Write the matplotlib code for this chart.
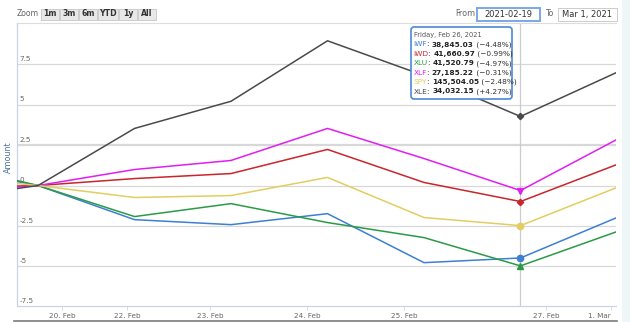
import matplotlib
matplotlib.use("Agg")
import matplotlib.pyplot as plt
import matplotlib.transforms as mtransforms
from matplotlib.patches import Rectangle, FancyBboxPatch

# trading days on an ordinal axis, Feb 19 is the comparison base (0 %)
day_index = [-1, 0, 1, 2, 3, 4, 5, 6]

# percent change vs. Feb 19
iwf = [1.14, 0.0, -2.11, -2.42, -1.74, -4.77, -4.48, -1.98]
iwd = [-0.14, 0.0, 0.43, 0.74, 2.23, 0.19, -0.99, 1.30]
xlu = [1.42, 0.0, -1.92, -1.12, -2.29, -3.22, -4.97, -2.85]
xlf = [-0.43, 0.0, 0.99, 1.55, 3.53, 1.67, -0.31, 2.85]
spy = [0.57, 0.0, -0.74, -0.62, 0.50, -1.98, -2.48, -0.12]
xle = [-0.85, 0.0, 3.53, 5.21, 8.95, 6.80, 4.27, 7.00]

names = ["IWF", "IWD", "XLU", "XLF", "SPY", "XLE"]
series = [iwf, iwd, xlu, xlf, spy, xle]
colors = ["#3d7fd2", "#c8262c", "#2b9a47", "#e01ef2", "#e2cd60", "#4a4a4a"]
markers = ["o", "D", "^", "v", "o", "D"]
marker_sizes = [4.5, 3.2, 4.0, 4.0, 4.5, 3.2]

# values shown in the hover box for Feb 26
hover_pos = 6
hover_date = "Friday, Feb 26, 2021"
hover_prices = [38845.03, 41660.97, 41520.79, 27185.22, 145504.05, 34032.15]

tick_pos = [0.249, 0.922, 1.782, 2.788, 3.793, 5.264, 5.938]
tick_labels = ["20. Feb", "22. Feb", "23. Feb", "24. Feb", "25. Feb", "27. Feb", "1. Mar"]
y_ticks = [-7.5, -5, -2.5, 0, 2.5, 5, 7.5]

W, H = 630, 322
fig = plt.figure(figsize=(W / 100, H / 100), dpi=100)
# pixel coordinates measured from the top-left corner
px = mtransforms.Affine2D().scale(1 / W, -1 / H).translate(0, 1) + fig.transFigure

ax = fig.add_axes([17 / W, (H - 306) / H, (616 - 17) / W, (306 - 23) / H])
ax.set_xlim(-0.218, 5.99)
ax.set_ylim(-7.45, 10.05)

for yv in y_ticks:
    ax.axhline(yv, color="#d8d8d8", lw=1.6 if yv == 2.5 else 0.9, zorder=0)
    ax.text(0.004, yv + 0.15, f"{yv:g}", transform=ax.get_yaxis_transform(),
            fontsize=5.2, color="#666666", ha="left", va="bottom")

# crosshair at the hovered day
ax.axvline(day_index[hover_pos], color="#cccccc", lw=0.9, zorder=1)

for vals, c, m, ms in zip(series, colors, markers, marker_sizes):
    ax.plot(day_index, vals, color=c, lw=1.1, zorder=3)
    ax.plot(day_index[hover_pos], vals[hover_pos], marker=m, color=c,
            markersize=ms, zorder=4)

ax.set_yticks([])
ax.set_xticks(tick_pos)
ax.set_xticklabels(tick_labels, fontsize=5.2, color="#666666")
for lbl in ax.get_xticklabels()[-1:]:
    lbl.set_ha("right")
ax.tick_params(axis="x", direction="out", length=3, width=0.6, color="#ccd6eb", pad=2)
ax.tick_params(axis="y", length=0)
for side in ["left", "bottom"]:
    ax.spines[side].set_color("#c8d4e6")
    ax.spines[side].set_linewidth(0.9)
ax.spines["top"].set_color("#dddddd")
ax.spines["top"].set_linewidth(0.8)
ax.spines["right"].set_visible(False)
ax.set_facecolor("white")

fig.text(8 / W, 1 - 157 / H, "Amount", rotation=90, fontsize=5.8, color="#4d6f9e",
         ha="center", va="center")

# range selector buttons
fig.text(17 / W, 1 - 14 / H, "Zoom", fontsize=5.6, color="#666666", va="center")
btn_x = [41, 60, 79, 98, 119, 138, 157]
btn_labels = ["1m", "3m", "6m", "YTD", "1y", "All"]
for x0, x1, lab in zip(btn_x[:-1], btn_x[1:], btn_labels):
    fig.patches.append(Rectangle((x0, 8.5), x1 - x0 - 1, 11, transform=px,
                                 facecolor="#e8e8e8", edgecolor="#c6c6c6", lw=0.6))
    fig.text((x0 + x1 - 1) / 2 / W, 1 - 14 / H, lab, fontsize=5.6, color="#333333",
             ha="center", va="center", fontweight="bold")

# date range inputs
fig.text(475 / W, 1 - 14 / H, "From", fontsize=5.8, color="#666666", ha="right", va="center")
fig.patches.append(Rectangle((477, 8), 63, 13, transform=px, facecolor="white",
                             edgecolor="#7aa7e6", lw=1.4))
fig.text(508.5 / W, 1 - 14.5 / H, "2021-02-19", fontsize=6, color="#333333",
         ha="center", va="center")
fig.text(545 / W, 1 - 14 / H, "To", fontsize=5.8, color="#666666", ha="left", va="center")
fig.patches.append(Rectangle((558, 8), 59, 13, transform=px, facecolor="white",
                             edgecolor="#cccccc", lw=0.7))
fig.text(587.5 / W, 1 - 14.5 / H, "Mar 1, 2021", fontsize=6, color="#333333",
         ha="center", va="center")

# side panel and bottom rule
fig.patches.append(Rectangle((622, 0), 8, H, transform=px, facecolor="#eef6f8",
                             edgecolor="none"))
fig.lines.append(plt.Line2D([14, 617], [321, 321], transform=px, color="#7a7a7a", lw=1.2))

# hover box
fig.patches.append(FancyBboxPatch((411, 27), 101, 72, transform=px,
                                  boxstyle="round,pad=0,rounding_size=3",
                                  facecolor="white", edgecolor="#4a89d6", lw=1.2,
                                  zorder=10))
fig.text(413.5 / W, 1 - 35 / H, hover_date, fontsize=4.8, color="#555555",
         va="center", zorder=11)

fig.canvas.draw()
renderer = fig.canvas.get_renderer()
for i, (name, price, vals, c) in enumerate(zip(names, hover_prices, series, colors)):
    y = 44.5 + 9.4 * i
    pieces = [(name, c, "normal"), (": ", "#333333", "normal"),
              (f"{price:,.2f}", "#222222", "bold"),
              (f" ({vals[hover_pos]:+.2f}%)".replace("-", "\u2212"), "#333333", "normal")]
    x = 413.5
    for txt, col, wt in pieces:
        t = fig.text(x / W, 1 - y / H, txt, fontsize=5.3, color=col, fontweight=wt,
                     va="center", zorder=11)
        x += t.get_window_extent(renderer).width

fig.savefig("out.png", dpi=100)
